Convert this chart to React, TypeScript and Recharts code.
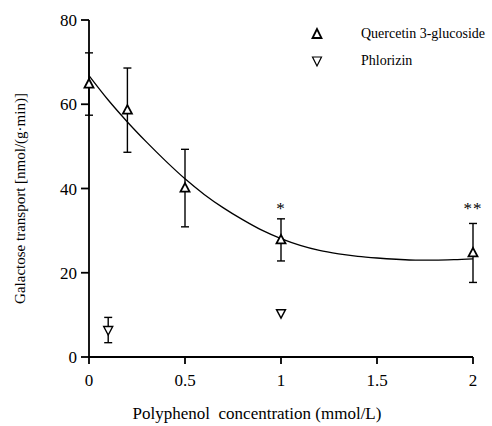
import React from 'react';
import { ComposedChart, Scatter, Line, XAxis, YAxis, ErrorBar, Legend, Label } from 'recharts';

// Quercetin 3-glucoside (open up-triangles)
const quercetinX = [0, 0.2, 0.5, 1, 2];
const quercetinY = [64.8, 58.6, 40.1, 27.8, 24.7];
const quercetinErr = [7.4, 10.0, 9.2, 5.0, 7.0];

// Phlorizin (open down-triangles)
const phlorizinX = [0.1, 1];
const phlorizinY = [6.4, 10.4];
const phlorizinErr = [3.0, 0];

// Fitted curve
const fitX = [0, 0.1, 0.2, 0.3, 0.4, 0.5, 0.6, 0.7, 0.8, 0.9, 1.0, 1.1, 1.2, 1.3, 1.4, 1.5, 1.6, 1.7, 1.8, 1.9, 2.0];
const fitY = [66.8, 61.0, 55.8, 51.0, 46.5, 42.3, 38.6, 35.4, 32.6, 30.1, 28.1, 26.5, 25.3, 24.5, 23.9, 23.5, 23.2, 23.0, 23.0, 23.1, 23.3];

// Significance marks
const sigX = [1, 2];
const sigY = [36.2, 36.2];
const sigText = ['*', '**'];

const xTicks = [0, 0.5, 1, 1.5, 2];
const yTicks = [0, 20, 40, 60, 80];

const legendNames = ['Quercetin 3-glucoside', 'Phlorizin'];

const quercetinData = quercetinX.map((x, i) => ({ x, y: quercetinY[i], err: quercetinErr[i] }));
const phlorizinData = phlorizinX.map((x, i) => ({ x, y: phlorizinY[i], err: phlorizinErr[i] || null }));
const fitData = fitX.map((x, i) => ({ x, y: fitY[i] }));
const sigData = sigX.map((x, i) => ({ x, y: sigY[i], text: sigText[i] }));

const FONT = '"Liberation Serif", "DejaVu Serif", serif';

const UpTri = (props: any) => {
  const { cx, cy } = props;
  if (cx == null || cy == null) return null;
  return (
    <polygon
      points={`${cx},${cy - 5} ${cx - 4.5},${cy + 3.5} ${cx + 4.5},${cy + 3.5}`}
      fill="#fff"
      stroke="#000"
      strokeWidth={1.8}
    />
  );
};

const DownTri = (props: any) => {
  const { cx, cy } = props;
  if (cx == null || cy == null) return null;
  return (
    <polygon
      points={`${cx},${cy + 5} ${cx - 4.5},${cy - 3.5} ${cx + 4.5},${cy - 3.5}`}
      fill="#fff"
      stroke="#000"
      strokeWidth={1.4}
    />
  );
};

const SigMark = (props: any) => {
  const { cx, cy, payload } = props;
  if (cx == null || cy == null) return null;
  return (
    <text
      x={cx}
      y={cy + 9}
      textAnchor="middle"
      fontFamily={FONT}
      fontSize={17}
      fill="#000"
      stroke="none"
      letterSpacing={1}
    >
      {payload.text}
    </text>
  );
};

const LegendContent = () => (
  <div style={{ fontFamily: FONT, fontSize: 14, color: '#000', whiteSpace: 'nowrap' }}>
    {legendNames.map((name, i) => (
      <div key={name} style={{ display: 'flex', alignItems: 'center', height: 27 }}>
        <svg width={14} height={14} style={{ marginRight: 37 }}>
          {i === 0 ? (
            <polygon points="7,2 2.5,11 11.5,11" fill="#fff" stroke="#000" strokeWidth={1.8} />
          ) : (
            <polygon points="7,12 2.5,3 11.5,3" fill="#fff" stroke="#000" strokeWidth={1.2} />
          )}
        </svg>
        <span>{name}</span>
      </div>
    ))}
  </div>
);

const YLabel = (props: any) => {
  const { viewBox } = props;
  const cx = viewBox.x + 20;
  const cy = viewBox.y + viewBox.height / 2 + 10;
  return (
    <text
      x={cx}
      y={cy}
      transform={`rotate(-90, ${cx}, ${cy})`}
      textAnchor="middle"
      dominantBaseline="central"
      fontFamily={FONT}
      fontSize={15}
      fill="#000"
    >
      Galactose transport [nmol/(g·min)]
    </text>
  );
};

const XLabel = (props: any) => {
  const { viewBox } = props;
  const cx = viewBox.x + viewBox.width / 2 - 24;
  const cy = 419;
  return (
    <text x={cx} y={cy} textAnchor="middle" fontFamily={FONT} fontSize={17} fill="#000" style={{ whiteSpace: 'pre' }}>
      Polyphenol  concentration (mmol/L)
    </text>
  );
};

export default function App() {
  return (
    <div style={{ position: 'absolute', left: 0, top: 0, width: 492, height: 426, background: '#fff' }}>
      <ComposedChart width={492} height={426} margin={{ top: 20, right: 19, bottom: 0, left: 0 }}>
        <XAxis
          dataKey="x"
          type="number"
          domain={[0, 2]}
          ticks={xTicks}
          height={69}
          stroke="#000"
          strokeWidth={1.8}
          tickSize={7}
          tickMargin={10}
          tick={{ fontFamily: FONT, fontSize: 17, fill: '#000' }}
        >
          <Label content={<XLabel />} />
        </XAxis>
        <YAxis
          type="number"
          domain={[0, 80]}
          ticks={yTicks}
          width={89}
          stroke="#000"
          strokeWidth={1.8}
          tickSize={8}
          tickMargin={4}
          tick={{ fontFamily: FONT, fontSize: 17, fill: '#000' }}
        >
          <Label content={<YLabel />} />
        </YAxis>
        <Legend
          layout="vertical"
          align="center"
          verticalAlign="middle"
          wrapperStyle={{ top: 20, left: 310, width: 180 }}
          content={<LegendContent />}
        />
        <Line
          data={fitData}
          dataKey="y"
          type="monotone"
          dot={false}
          activeDot={false}
          stroke="#000"
          strokeWidth={1.3}
          isAnimationActive={false}
          legendType="none"
        />
        <Scatter data={quercetinData} dataKey="y" name={legendNames[0]} shape={<UpTri />} isAnimationActive={false}>
          <ErrorBar dataKey="err" direction="y" width={4} stroke="#000" strokeWidth={1.4} />
        </Scatter>
        <Scatter data={phlorizinData} dataKey="y" name={legendNames[1]} shape={<DownTri />} isAnimationActive={false}>
          <ErrorBar dataKey="err" direction="y" width={4} stroke="#000" strokeWidth={1.4} />
        </Scatter>
        <Scatter data={sigData} dataKey="y" shape={<SigMark />} isAnimationActive={false} legendType="none" />
      </ComposedChart>
    </div>
  );
}
